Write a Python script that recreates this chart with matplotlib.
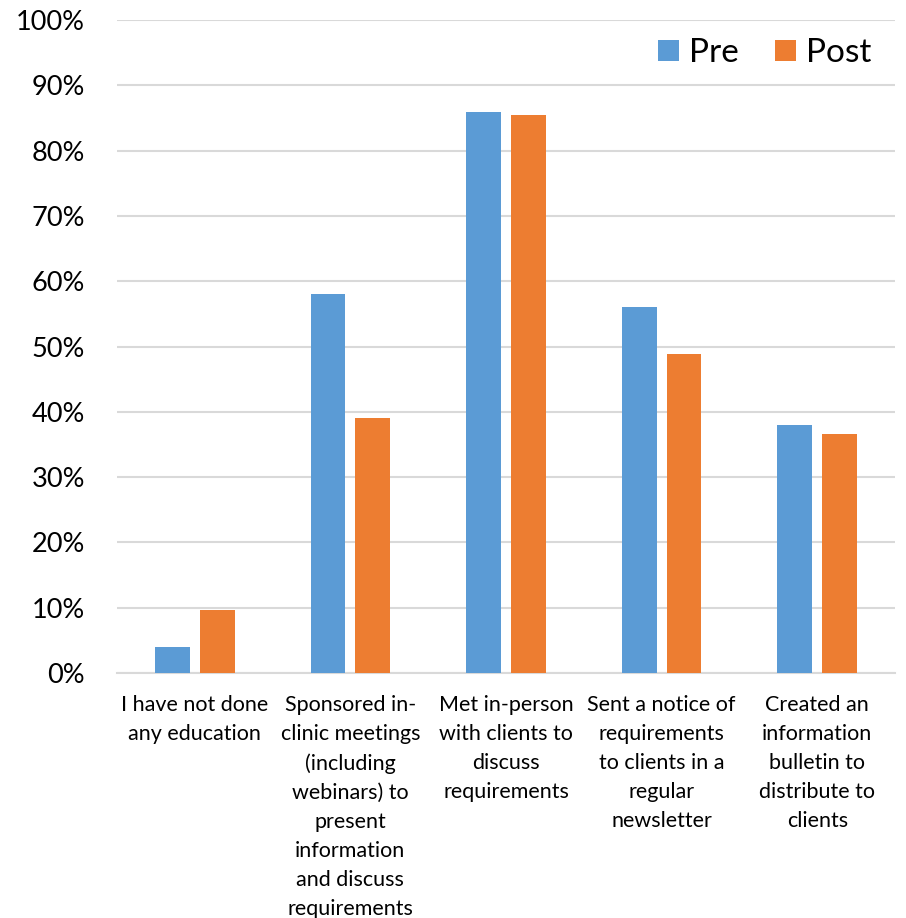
import matplotlib
matplotlib.use("Agg")
import matplotlib.pyplot as plt
import numpy as np

categories = [
    "I have not done\nany education",
    "Sponsored in-\nclinic meetings\n(including\nwebinars) to\npresent\ninformation\nand discuss\nrequirements",
    "Met in-person\nwith clients to\ndiscuss\nrequirements",
    "Sent a notice of\nrequirements\nto clients in a\nregular\nnewsletter",
    "Created an\ninformation\nbulletin to\ndistribute to\nclients",
]
pre = [4.0, 58.0, 86.0, 56.0, 38.0]
post = [9.7, 39.0, 85.4, 48.8, 36.6]
y_ticks = list(range(0, 101, 10))

plt.rcParams["font.family"] = ["Lato", "DejaVu Sans"]

fig = plt.figure(figsize=(9.06, 9.18), dpi=100)
ax = fig.add_axes([0.129, 0.267, 0.859, 0.711])

x = np.arange(len(categories))
width = 0.224
offset = 0.144
ax.bar(x - offset, pre, width, color="#5B9BD5", label="Pre", zorder=3)
ax.bar(x + offset, post, width, color="#ED7D31", label="Post", zorder=3)

ax.set_xlim(-0.5, len(categories) - 0.5)
ax.set_ylim(0, 100)
ax.set_yticks(y_ticks)
ax.set_yticklabels([f"{v}%" for v in y_ticks], fontsize=19.5)
ax.set_xticks(x)
ax.set_xticklabels(categories, fontsize=15.5, linespacing=1.56, va="top")
ax.tick_params(axis="both", length=0)
ax.tick_params(axis="y", pad=23)
ax.tick_params(axis="x", pad=16)

ax.grid(axis="y", color="#D9D9D9", linewidth=1.5, zorder=0)
for side in ["top", "right", "left"]:
    ax.spines[side].set_visible(False)
ax.spines["bottom"].set_color("#D9D9D9")
ax.spines["bottom"].set_linewidth(1.5)

ax.legend(loc="upper right", frameon=False, fontsize=24, ncol=2,
          handlelength=0.63, handleheight=0.63, columnspacing=1.1,
          handletextpad=0.3, borderaxespad=0.3,
          bbox_to_anchor=(1.0, 1.008))

fig.savefig("out.png", dpi=100)
